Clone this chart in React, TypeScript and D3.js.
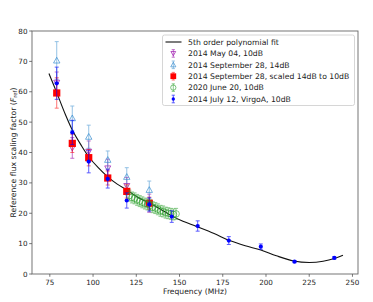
import React from 'react';
import * as d3 from 'd3';

// 5th order polynomial fit
const fitFreq = [74.5, 79, 84, 88, 93, 97.5, 103, 108.5, 114, 120, 126, 133, 140, 145, 151, 160, 170, 179, 188, 197, 206, 216, 225, 233, 240, 244.5];
const fitVal = [66, 59.7, 52.5, 47.4, 42.5, 38.6, 35, 32, 29.6, 27.5, 25.2, 23.2, 21, 19.3, 17.6, 15.6, 13.3, 11, 9.3, 7.9, 6.0, 4.3, 3.8, 4.2, 5.2, 6.2];

const obsFreq = [79, 88, 97.5, 108.5, 119.5, 132.5];

const may04Val = [63.0, 41.5, 40.3, 34.8, 29.0, 23.3];
const may04Err = [3.5, 3.4, 3.5, 3, 2.8, 3];

const sep28Val = [70.3, 51.3, 45.2, 37.6, 32.0, 27.7];
const sep28Err = [6.2, 4.0, 3.8, 2.9, 3.0, 2.9];

const scaledVal = [59.6, 43.0, 38.3, 31.6, 27.2, 23.3];
const scaledErr = [5.0, 3.0, 2.7, 2.3, 2.2, 2.0];

const juneFreq = [121, 122.5, 124, 125.5, 127, 128.5, 130, 131.5, 133, 134.5, 136, 137.5, 139, 140.5, 142, 143.5, 145, 146.5, 148];
const juneVal = [25.8, 25.2, 24.9, 24.4, 24.0, 23.6, 23.2, 22.9, 22.6, 22.0, 21.7, 21.3, 20.8, 20.6, 20.2, 20.0, 19.8, 19.6, 19.8];
const juneErr = [1.8, 1.8, 1.8, 1.8, 1.8, 1.8, 1.8, 1.8, 1.8, 1.8, 1.8, 1.8, 1.8, 1.8, 1.8, 1.8, 1.8, 1.8, 1.8];

const virgoFreq = [79, 88, 97.5, 108.5, 119.5, 132.5, 145.5, 160.5, 178.5, 197, 216.5, 239.5];
const virgoVal = [62.8, 46.6, 37.0, 31.3, 24.2, 22.9, 18.9, 15.8, 11.0, 9.0, 4.05, 5.3];
const virgoErr = [5.3, 4.0, 3.7, 3.0, 2.5, 2.2, 1.9, 1.7, 1.3, 0.9, 0.3, 0.4];

const xTicks = [75, 100, 125, 150, 175, 200, 225, 250];
const yTicks = [0, 10, 20, 30, 40, 50, 60, 70, 80];

const legendLabels = [
  '5th order polynomial fit',
  '2014 May 04, 10dB',
  '2014 September 28, 14dB',
  '2014 September 28, scaled 14dB to 10dB',
  '2020 June 20, 10dB',
  '2014 July 12, VirgoA, 10dB',
];

const W = 373;
const H = 302;
const m = { left: 32, right: 358, top: 31, bottom: 274 };
const FONT = 'DejaVu Sans, sans-serif';

const x = d3.scaleLinear().domain([64.7, 253.2]).range([m.left, m.right]);
const y = d3.scaleLinear().domain([0, 80]).range([m.bottom, m.top]);

type Mk = 'vdown' | 'vup' | 'sq' | 'circ' | 'dot';

function Marker({ kind, cx, cy, color, s = 1 }: { kind: Mk; cx: number; cy: number; color: string; s?: number }) {
  if (kind === 'vdown') {
    const r = 3 * s;
    return <polygon points={`${cx},${cy + r} ${cx - r},${cy - r * 0.8} ${cx + r},${cy - r * 0.8}`} fill="none" stroke={color} strokeWidth={1} />;
  }
  if (kind === 'vup') {
    const r = 3.2 * s;
    return <polygon points={`${cx},${cy - r} ${cx - r},${cy + r * 0.8} ${cx + r},${cy + r * 0.8}`} fill="none" stroke={color} strokeWidth={1} />;
  }
  if (kind === 'sq') {
    const h = 3.6 * s;
    return <rect x={cx - h} y={cy - h} width={2 * h} height={2 * h} fill={color} />;
  }
  if (kind === 'circ') return <circle cx={cx} cy={cy} r={3.3 * s} fill="none" stroke={color} strokeWidth={0.9} />;
  return <circle cx={cx} cy={cy} r={2.1 * s} fill={color} />;
}

function ErrSeries({ fs, vs, es, kind, color, opacity, barOpacity }: {
  fs: number[]; vs: number[]; es: number[]; kind: Mk; color: string; opacity: number; barOpacity: number;
}) {
  return (
    <g>
      {fs.map((f, i) => {
        const cx = x(f);
        const y0 = y(vs[i] - es[i]);
        const y1 = y(vs[i] + es[i]);
        return (
          <g key={i}>
            <g stroke={color} strokeWidth={0.9} opacity={barOpacity}>
              <line x1={cx} x2={cx} y1={y0} y2={y1} />
              <line x1={cx - 2} x2={cx + 2} y1={y0} y2={y0} />
              <line x1={cx - 2} x2={cx + 2} y1={y1} y2={y1} />
            </g>
            <g opacity={opacity}>
              <Marker kind={kind} cx={cx} cy={y(vs[i])} color={color} />
            </g>
          </g>
        );
      })}
    </g>
  );
}

const series: { kind: Mk; color: string; op: number; bop: number }[] = [
  { kind: 'vdown', color: '#a020b0', op: 0.75, bop: 0.7 },
  { kind: 'vup', color: '#3b8fd0', op: 0.7, bop: 0.6 },
  { kind: 'sq', color: '#ff0000', op: 1, bop: 0.6 },
  { kind: 'circ', color: '#2ca02c', op: 0.7, bop: 0.6 },
  { kind: 'dot', color: '#0000ff', op: 1, bop: 0.7 },
];

export default function App() {
  const line = d3.line<number>()
    .x((_, i) => x(fitFreq[i]))
    .y((d) => y(d))
    .curve(d3.curveCatmullRom.alpha(0.5));

  const legX = 162.5;
  const legY = 35;
  const rowH = 11.4;

  return (
    <svg width={W} height={H} style={{ position: 'absolute', left: 0, top: 0, background: '#fff' }} fontFamily={FONT}>
      <rect width={W} height={H} fill="#fff" />

      {/* fit curve */}
      <path d={line(fitVal) ?? ''} fill="none" stroke="#111" strokeWidth={1.1} />

      <ErrSeries fs={obsFreq} vs={may04Val} es={may04Err} kind="vdown" color={series[0].color} opacity={series[0].op} barOpacity={series[0].bop} />
      <ErrSeries fs={obsFreq} vs={sep28Val} es={sep28Err} kind="vup" color={series[1].color} opacity={series[1].op} barOpacity={series[1].bop} />
      <ErrSeries fs={obsFreq} vs={scaledVal} es={scaledErr} kind="sq" color={series[2].color} opacity={series[2].op} barOpacity={series[2].bop} />
      <ErrSeries fs={juneFreq} vs={juneVal} es={juneErr} kind="circ" color={series[3].color} opacity={series[3].op} barOpacity={series[3].bop} />
      <ErrSeries fs={virgoFreq} vs={virgoVal} es={virgoErr} kind="dot" color={series[4].color} opacity={series[4].op} barOpacity={series[4].bop} />

      {/* frame */}
      <rect x={m.left} y={m.top} width={m.right - m.left} height={m.bottom - m.top} fill="none" stroke="#666" strokeWidth={0.9} />

      {/* x axis */}
      {xTicks.map((t) => (
        <g key={t}>
          <line x1={x(t)} x2={x(t)} y1={m.bottom} y2={m.bottom + 2.8} stroke="#555" strokeWidth={0.8} />
          <text x={x(t)} y={m.bottom + 10.5} fontSize={7.2} textAnchor="middle" fill="#222">{t}</text>
        </g>
      ))}
      <text x={(m.left + m.right) / 2} y={294} fontSize={7.6} textAnchor="middle" fill="#222">Frequency (MHz)</text>

      {/* y axis */}
      {yTicks.map((t) => (
        <g key={t}>
          <line x1={m.left - 2.8} x2={m.left} y1={y(t)} y2={y(t)} stroke="#555" strokeWidth={0.8} />
          <text x={m.left - 4.5} y={y(t) + 2.5} fontSize={7.2} textAnchor="end" fill="#222">{t}</text>
        </g>
      ))}
      <text transform={`translate(15.5,${(m.top + m.bottom) / 2}) rotate(-90)`} fontSize={7.7} textAnchor="middle" fill="#222">
        Reference flux scaling factor (<tspan fontStyle="italic">F</tspan>
        <tspan fontSize={5.4} dy={1.8}>ref</tspan>
        <tspan dy={-1.8}>)</tspan>
      </text>

      {/* legend */}
      <rect x={legX} y={legY} width={192} height={70.5} rx={2} fill="#fff" fillOpacity={0.8} stroke="#ccc" strokeWidth={0.8} />
      {legendLabels.map((lab, i) => {
        const cy = legY + 7 + i * rowH;
        const hx = legX + 10.8;
        let handle: React.ReactNode;
        if (i === 0) {
          handle = <line x1={legX + 3} x2={legX + 19} y1={cy} y2={cy} stroke="#111" strokeWidth={1.1} />;
        } else {
          const s = series[i - 1];
          handle = (
            <g>
              <g stroke={s.color} strokeWidth={0.9} opacity={s.bop}>
                <line x1={hx} x2={hx} y1={cy - 3.8} y2={cy + 3.8} />
                <line x1={hx - 1.6} x2={hx + 1.6} y1={cy - 3.8} y2={cy - 3.8} />
                <line x1={hx - 1.6} x2={hx + 1.6} y1={cy + 3.8} y2={cy + 3.8} />
              </g>
              <g opacity={s.op}>
                <Marker kind={s.kind} cx={hx} cy={cy} color={s.color} s={0.8} />
              </g>
            </g>
          );
        }
        return (
          <g key={lab}>
            {handle}
            <text x={legX + 25.5} y={cy + 2.7} fontSize={7.7} fill="#222">{lab}</text>
          </g>
        );
      })}
    </svg>
  );
}
